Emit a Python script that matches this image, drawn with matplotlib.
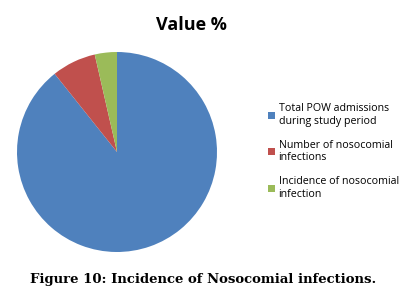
import matplotlib
matplotlib.use('Agg')
import matplotlib.pyplot as plt
from matplotlib.patches import Patch

# data (share of the circle)
labels = ['Total POW admissions\nduring study period',
          'Number of nosocomial\ninfections',
          'Incidence of nosocomial\ninfection']
values = [100, 8, 4]
colors = ['#4F81BD', '#C0504D', '#9BBB59']

W, H = 411, 296
fig = plt.figure(figsize=(W / 100, H / 100), dpi=100)

# pie axes: centre ~ (117,152) px, radius ~100 px
ax = fig.add_axes([17 / W, (H - 252) / H, 200 / W, 200 / H])
ax.pie(values, colors=colors, startangle=90, counterclock=False,
       wedgeprops=dict(linewidth=0))
ax.set_xlim(-1, 1)
ax.set_ylim(-1, 1)
ax.set_aspect('equal')
ax.axis('off')

fig.text(191 / W, 1 - 25 / H, 'Value %', ha='center', va='center',
         fontsize=13, fontweight='bold', family='Open Sans')

handles = [Patch(facecolor=c, edgecolor='none') for c in colors]
fig.legend(handles, labels, loc='upper left',
           bbox_to_anchor=(263 / W, 1 - 98 / H), frameon=False,
           prop=dict(family='Open Sans', size=7.7),
           handlelength=0.6, handleheight=0.6, handletextpad=0.35,
           labelspacing=1.2, borderpad=0)

fig.text(203 / W, 1 - 280 / H, 'Figure 10: Incidence of Nosocomial infections.',
         ha='center', va='center', fontsize=9.5, fontweight='bold',
         family='DejaVu Serif')

fig.savefig('out.png', dpi=100)
